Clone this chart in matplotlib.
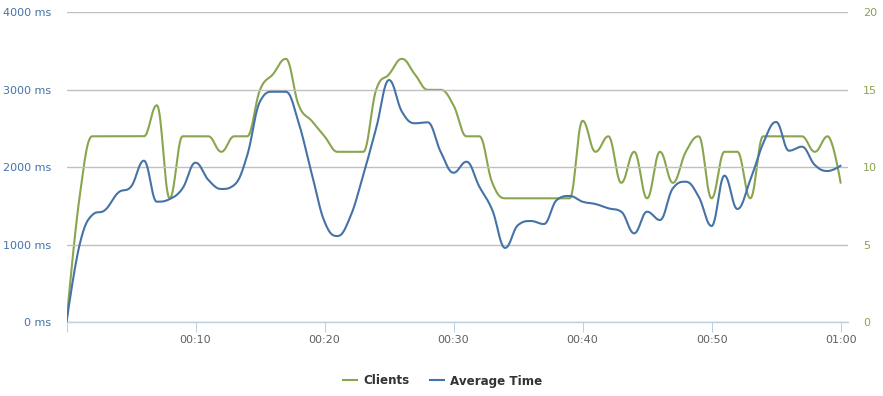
import numpy as np
import matplotlib
matplotlib.use("Agg")
import matplotlib.pyplot as plt
from matplotlib.lines import Line2D

# ---- data (one point per second) ----
seconds = list(range(0, 61))
clients = [0, 8, 12, 12, 12, 12, 12, 14, 8, 12,
           12, 12, 11, 12, 12, 15, 16, 17, 14, 13,
           12, 11, 11, 11, 15, 16, 17, 16, 15, 15,
           14, 12, 12, 9, 8, 8, 8, 8, 8, 8,
           13, 11, 12, 9, 11, 8, 11, 9, 11, 12,
           8, 11, 11, 8, 12, 12, 12, 12, 11, 12,
           9]
avg_time = [0, 990, 1385, 1450, 1672, 1750, 2085, 1556, 1590, 1730,
            2060, 1836, 1720, 1772, 2150, 2850, 2975, 2975, 2570, 1923,
            1298, 1113, 1363, 1900, 2503, 3126, 2717, 2568, 2580, 2201,
            1930, 2072, 1750, 1449, 960, 1255, 1307, 1268, 1578, 1630,
            1556, 1526, 1471, 1427, 1148, 1427, 1320, 1729, 1814, 1621,
            1243, 1892, 1462, 1836, 2310, 2585, 2214, 2266, 2030, 1952,
            2021]
tick_seconds = [10, 20, 30, 40, 50, 60]
tick_labels = ["00:10", "00:20", "00:30", "00:40", "00:50", "01:00"]
left_ticks = [0, 1000, 2000, 3000, 4000]
right_ticks = [0, 5, 10, 15, 20]

GREEN = "#89A54E"
BLUE = "#4572A7"


def spline(xs, ys, n=30):
    """Highcharts-style spline (bezier segments through the points)."""
    xs = np.asarray(xs, float)
    ys = np.asarray(ys, float)
    m = len(xs)
    lc = [(xs[i], ys[i]) for i in range(m)]
    rc = [(xs[i], ys[i]) for i in range(m)]
    s = 1.5
    d = s + 1
    for i in range(1, m - 1):
        px, py = xs[i], ys[i]
        lx, ly = xs[i - 1], ys[i - 1]
        nx, ny = xs[i + 1], ys[i + 1]
        lcx = (s * px + lx) / d
        lcy = (s * py + ly) / d
        rcx = (s * px + nx) / d
        rcy = (s * py + ny) / d
        corr = ((rcy - lcy) * (rcx - px)) / (rcx - lcx) + py - rcy
        lcy += corr
        rcy += corr
        if lcy > ly and lcy > py:
            lcy = max(ly, py)
            rcy = 2 * py - lcy
        elif lcy < ly and lcy < py:
            lcy = min(ly, py)
            rcy = 2 * py - lcy
        if rcy > ny and rcy > py:
            rcy = max(ny, py)
            lcy = 2 * py - rcy
        elif rcy < ny and rcy < py:
            rcy = min(ny, py)
            lcy = 2 * py - rcy
        lc[i] = (lcx, lcy)
        rc[i] = (rcx, rcy)
    t = np.linspace(0, 1, n)
    outx, outy = [xs[0]], [ys[0]]
    for i in range(1, m):
        p0 = (xs[i - 1], ys[i - 1])
        p1 = rc[i - 1]
        p2 = lc[i]
        p3 = (xs[i], ys[i])
        bx = ((1 - t) ** 3 * p0[0] + 3 * (1 - t) ** 2 * t * p1[0]
              + 3 * (1 - t) * t ** 2 * p2[0] + t ** 3 * p3[0])
        by = ((1 - t) ** 3 * p0[1] + 3 * (1 - t) ** 2 * t * p1[1]
              + 3 * (1 - t) * t ** 2 * p2[1] + t ** 3 * p3[1])
        outx.extend(bx[1:])
        outy.extend(by[1:])
    return np.array(outx), np.array(outy)


plt.rcParams["font.family"] = ["DejaVu Sans"]
W, H = 883, 396
fig = plt.figure(figsize=(W / 100, H / 100), dpi=100)
L, R, T, B = 66.5, 847.7, 12.3, 322.3
ax = fig.add_axes([L / W, 1 - B / H, (R - L) / W, (B - T) / H])
ax2 = ax.twinx()

ax.set_xlim(0, 60.55)
ax.set_ylim(0, 4000)
ax2.set_ylim(0, 20)

for a in (ax, ax2):
    for sp in a.spines.values():
        sp.set_visible(False)
ax.spines["bottom"].set_visible(True)
ax.spines["bottom"].set_color("#C0D0E0")
ax.spines["bottom"].set_linewidth(1)

ax.set_yticks(left_ticks)
ax.set_yticklabels([f"{v} ms" for v in left_ticks])
ax.yaxis.grid(True, color="#C0C0C0", linewidth=1)
ax.set_axisbelow(True)
ax.tick_params(axis="y", length=0, pad=11, labelsize=8, labelcolor=BLUE)

ax2.set_yticks(right_ticks)
ax2.set_yticklabels([str(v) for v in right_ticks])
ax2.tick_params(axis="y", length=0, pad=11, labelsize=8, labelcolor=GREEN)

ax.set_xticks([0] + tick_seconds)
ax.set_xticklabels([""] + tick_labels)
ax.tick_params(axis="x", length=7.2, width=0.75, color="#C0D0E0", pad=2,
               labelsize=8, labelcolor="#606060")

cx, cy = spline(seconds, clients)
bx, by = spline(seconds, avg_time)
ax2.plot(cx, cy, color=GREEN, linewidth=1.5, solid_capstyle="round",
         solid_joinstyle="round", zorder=2)
ax.plot(bx, by, color=BLUE, linewidth=1.5, solid_capstyle="round",
        solid_joinstyle="round", zorder=3)
ax.set_zorder(ax2.get_zorder() + 1)
ax.patch.set_visible(False)

handles = [Line2D([], [], color=GREEN, linewidth=1.5),
           Line2D([], [], color=BLUE, linewidth=1.5)]
leg = fig.legend(handles, ["Clients", "Average Time"], loc="center",
                 bbox_to_anchor=(442.5 / W, 1 - 381 / H), ncol=2,
                 frameon=False, handlelength=1.2, handletextpad=0.5,
                 columnspacing=1.7,
                 prop={"size": 8.6, "weight": "bold"})
for txt in leg.get_texts():
    txt.set_color("#333333")

fig.savefig("out.png", dpi=100)
